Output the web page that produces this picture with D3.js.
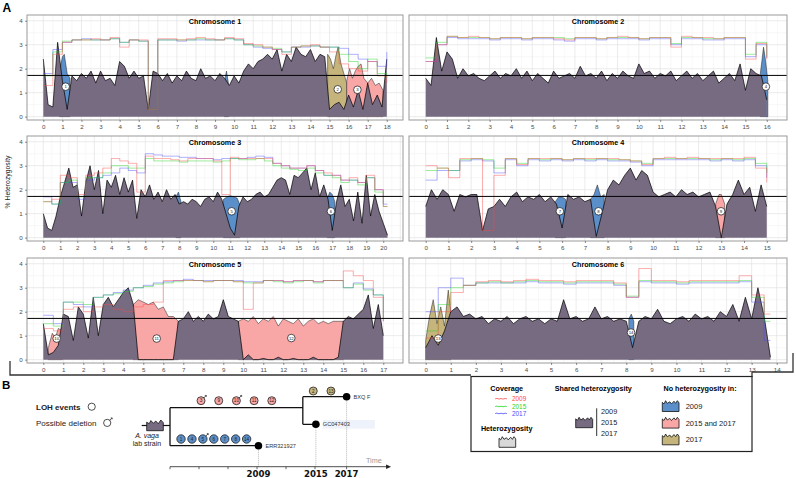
<!DOCTYPE html>
<html><head><meta charset="utf-8">
<script src="https://cdn.jsdelivr.net/npm/d3@7"></script>
<style>body{margin:0;background:#fff}svg{font-family:"Liberation Sans",Arial,sans-serif;display:block}</style>
</head><body><svg id="c" width="796" height="478"></svg>
<script>
// ---------------- DATA ----------------
const chromNames = ["Chromosome 1","Chromosome 2","Chromosome 3","Chromosome 4","Chromosome 5","Chromosome 6"];
const hetStep = 0.25;   // Mb between heterozygosity values
const covStep = 0.5;    // Mb between coverage values
const yTicks = [0,1,2,3,4];
const xTickMax = [18,16,20,15,17,14];
const hetThreshold = 1.72;

// shared heterozygosity (%) per chromosome
const het1 = [2.4,0.5,0.4,3.1, 1.5,0.3,1.7,1.5, 1.8,1.6,1.9,1.4, 1.9,1.5,1.6,1.3, 2.3,2.1,1.6,1.9, 1.6,1.7,0.3,1.9, 1.8,1.5,1.8,1.4, 1.7,1.5,1.9,1.6, 1.5,2.0,1.6,1.7, 1.5,1.8,1.6,1.3, 1.7,1.4,1.9,2.2, 2.0,2.3,2.4,2.6, 2.4,2.8,1.9,2.6, 2.3,2.9,2.6,2.5, 2.8,2.3,2.6,2.5, 0.3,0.5,0.6,0.3, 0.9,0.4,1.1,0.3, 1.4,0.5,0.9,0.4, 2.4];
const het2 = [1.6,1.3,3.3,1.9, 2.7,2.4,1.6,2.0, 1.7,1.8,1.6,1.5, 1.7,1.9,1.6,1.8, 1.7,2.0,1.6,1.9, 1.5,1.8,1.6,1.4, 1.9,1.6,1.7,1.8, 1.6,2.1,1.7,1.8, 1.6,1.9,1.5,1.8, 1.6,1.9,1.7,1.6, 2.2,1.8,1.9,1.6, 1.8,1.7,1.9,1.5, 1.7,1.9,1.6,1.8, 1.5,1.7,1.9,1.4, 1.6,1.8,1.5,2.2, 1.1,2.0,1.8,1.7, 0.7];
const het3 = [1.0,0.4,0.3,0.9, 1.7,2.3,2.9,2.1, 2.2,0.9,2.3,3.0, 2.0,2.8,1.0,2.4, 2.1,2.6,1.8,2.5, 1.9,2.4,0.8,2.0, 1.7,2.2,1.6,1.9, 1.5,2.0,1.6,1.8, 1.4,1.5,1.4,1.6, 1.5,1.3,1.6,1.7, 1.5,1.9,1.6,1.0, 0.4,0.1,1.3,1.7, 1.5,1.6,1.8,1.9, 1.7,1.8,2.1,2.4, 2.5,2.4,1.8,2.6, 2.5,2.7,2.9,2.0, 2.7,1.7,2.2,1.6, 0.3,1.5,2.2,1.3, 1.6,0.7,1.9,0.6, 2.6,0.9,1.8,1.1, 0.6,0.1];
const het4 = [1.3,2.0,1.6,2.0, 1.8,1.1,1.8,1.7, 1.8,1.8,0.3,1.2, 1.3,1.6,1.3,1.7, 1.9,1.5,1.7,1.6, 1.8,1.5,1.7,1.4, 0.4,1.8,1.6,1.7, 1.5,1.6,0.05,1.0, 2.0,2.4,2.2,2.6, 2.9,2.4,2.8,2.6, 1.9,1.7,1.8,1.9, 1.7,2.0,1.8,1.9, 1.7,1.8,1.9,1.3, 0.0,1.4,1.8,2.4, 1.8,2.1,1.1,2.2, 1.3];
const het5 = [1.5,0.2,0.3,0.6, 1.9,1.8,0.8,2.2, 1.9,0.9,2.6,1.0, 2.3,2.6,2.2,2.5, 2.8,3.0,2.3,0.0, 0.0,0.0,0.0,0.0, 0.0,0.0,0.0,1.6, 1.7,2.0,1.6,1.8, 1.6,1.9,1.7,1.8, 2.5,1.8,1.7,1.6, 0.0,0.2,0.0,0.0, 0.05,0.0,0.0,0.1, 0.0,0.0,0.05,0.0, 0.0,0.0,0.1,0.0, 0.0,0.0,0.0,0.1, 1.6,1.8,1.7,1.9, 2.1,2.7,1.3,2.3, 1.0];
const het6 = [0.5,1.0,0.6,1.2, 2.0,2.2,1.8,1.9, 1.7,1.8,1.5,1.7, 1.6,1.8,1.5,1.7, 1.8,1.6,1.7,1.5, 1.7,1.6,2.5,1.7, 1.8,1.6,1.7,2.2, 1.7,1.8,1.6,1.7, 1.6,0.5,1.6,1.8, 1.7,2.1,1.6,1.5, 1.7,1.8,1.6,1.9, 1.7,1.8,1.6,2.0, 1.8,2.3,1.6,2.6, 1.7,3.0,1.8,0.1];

// coverage per sequencing year
const cov2009_1 = [1.3,2.6,3.1,3.2,3.2,3.25,3.2,3.3,2.9,3.2,3.2,0.3,3.25,3.25,3.2,3.25,3.3,3.25,3.2,3.3,3.25,3.05,3.0,2.9,2.8,2.6,2.9,2.95,3.0,2.9,2.7,2.2,2.0,1.9,2.3,1.7,1.4];
const cov2015_1 = [1.7,2.7,3.15,3.2,3.2,3.2,3.2,3.25,3.1,3.2,3.15,0.3,3.2,3.2,3.2,3.2,3.25,3.2,3.2,3.25,3.2,3.0,2.95,2.9,2.85,2.7,2.9,2.95,2.95,2.9,2.9,2.6,2.3,2.0,2.4,1.8,1.6];
const cov2017_1 = [1.8,2.8,3.1,3.2,3.25,3.2,3.2,3.25,3.1,3.2,3.15,0.3,3.2,3.2,3.15,3.2,3.2,3.2,3.2,3.25,3.2,3.0,2.9,2.85,2.8,2.7,2.9,2.9,2.95,2.9,2.9,2.85,2.6,2.4,2.3,2.1,2.7];
const cov2009_2 = [2.3,3.0,3.35,3.3,3.35,3.3,3.25,3.3,3.3,3.25,3.3,3.3,3.25,3.2,3.3,3.3,3.25,3.3,3.35,3.3,3.25,3.3,3.3,2.9,3.35,3.3,3.3,3.25,3.3,3.3,2.4,3.05,2.4];
const cov2015_2 = [2.45,3.1,3.35,3.3,3.3,3.3,3.25,3.3,3.3,3.25,3.3,3.3,3.3,3.25,3.3,3.3,3.25,3.3,3.3,3.3,3.25,3.3,3.3,3.05,3.3,3.3,3.25,3.25,3.3,3.3,2.6,3.1,2.5];
const cov2017_2 = [2.3,3.0,3.3,3.25,3.25,3.25,3.2,3.25,3.25,3.2,3.25,3.25,3.2,3.15,3.25,3.25,3.2,3.25,3.25,3.25,3.2,3.25,3.25,3.0,3.25,3.25,3.2,3.2,3.25,3.25,2.5,3.0,2.45];
const cov2009_3 = [1.5,1.6,2.6,2.5,1.8,2.6,2.7,2.9,3.3,3.2,3.1,1.9,3.4,3.3,3.3,3.25,3.2,3.3,3.3,3.3,3.2,1.8,3.35,3.3,3.3,3.3,3.3,3.1,3.0,2.9,2.9,3.0,2.8,2.7,2.6,2.4,2.5,2.3,2.6,2.0,1.3];
const cov2015_3 = [1.5,1.4,2.3,2.4,1.7,2.5,2.5,2.7,3.0,3.0,2.9,2.9,3.3,3.2,3.2,3.2,3.15,3.2,3.2,3.2,3.15,3.2,3.3,3.25,3.25,3.3,3.2,3.0,2.9,2.85,2.8,2.9,2.7,2.6,2.5,2.3,2.4,2.2,2.5,1.9,1.3];
const cov2017_3 = [1.7,1.4,2.3,2.3,1.6,2.4,2.5,2.6,2.7,2.9,2.8,2.7,3.5,3.45,3.4,3.4,3.35,3.35,3.3,3.3,3.25,3.3,3.3,3.3,3.35,3.4,3.35,3.1,3.0,2.9,2.9,3.0,2.8,2.6,2.6,2.4,2.4,2.3,2.5,2.0,1.4];
const cov2009_4 = [3.0,2.9,2.5,3.3,3.3,0.3,2.6,3.3,3.05,3.3,3.3,3.3,3.25,3.3,3.3,3.3,3.3,3.25,3.2,3.05,3.3,3.35,3.3,3.35,3.3,3.3,3.3,3.3,3.35,2.9,2.3];
const cov2015_4 = [2.8,2.9,2.8,3.25,3.3,3.25,2.9,3.3,3.1,3.3,3.25,3.3,3.25,3.3,3.25,3.3,3.25,3.25,3.2,3.1,3.3,3.3,3.3,3.3,3.3,3.25,3.3,3.25,3.3,3.1,2.7];
const cov2017_4 = [2.4,2.8,2.8,3.2,3.25,3.2,2.7,3.25,3.0,3.25,3.2,3.25,3.2,3.25,3.2,3.25,3.2,3.2,3.15,3.0,3.25,3.25,3.25,3.25,3.25,3.2,3.25,3.2,3.25,3.0,2.5];
const cov2009_5 = [1.3,1.2,2.1,2.2,2.0,2.2,2.3,2.1,2.0,2.2,2.3,2.4,3.3,3.3,3.3,3.3,3.25,3.3,3.3,3.25,2.1,3.2,3.3,3.3,3.25,3.3,3.3,3.25,3.3,3.3,3.7,3.5,3.3,2.6,1.6];
const cov2015_5 = [1.5,1.4,2.4,2.4,2.3,2.6,2.7,2.75,2.85,3.0,3.05,3.15,3.2,3.25,3.3,3.3,3.25,3.3,3.3,3.25,3.2,3.2,3.3,3.25,3.2,3.25,3.3,3.2,3.3,3.3,3.0,3.15,2.9,2.7,1.7];
const cov2017_5 = [1.85,1.5,2.4,2.3,2.2,2.6,2.7,2.8,2.9,3.0,3.1,3.2,3.25,3.3,3.35,3.3,3.3,3.3,3.3,3.3,3.25,3.25,3.3,3.3,3.25,3.3,3.3,3.25,3.3,3.3,3.0,3.2,2.95,2.7,1.6];
const cov2009_6 = [0.9,2.0,2.8,3.1,3.25,3.3,3.25,3.3,3.35,3.3,3.3,3.25,3.3,3.3,3.3,3.2,2.6,3.8,3.3,3.3,3.25,3.3,3.3,3.3,3.3,3.5,2.7,1.9];
const cov2015_6 = [1.2,2.3,3.0,3.1,3.2,3.25,3.2,3.25,3.3,3.25,3.25,3.2,3.25,3.25,3.25,3.15,2.65,3.3,3.25,3.25,3.2,3.25,3.25,3.25,3.25,3.3,2.6,1.6];
const cov2017_6 = [2.0,3.0,3.4,3.1,3.2,3.2,3.2,3.2,3.25,3.2,3.2,3.15,3.2,3.2,3.2,3.1,2.6,3.25,3.2,3.2,3.15,3.2,3.2,3.2,3.2,3.25,2.4,0.8];

const hetByChrom = [het1,het2,het3,het4,het5,het6];
const cov2009 = [cov2009_1,cov2009_2,cov2009_3,cov2009_4,cov2009_5,cov2009_6];
const cov2015 = [cov2015_1,cov2015_2,cov2015_3,cov2015_4,cov2015_5,cov2015_6];
const cov2017 = [cov2017_1,cov2017_2,cov2017_3,cov2017_4,cov2017_5,cov2017_6];

// LOH events: heterozygosity kept by the other samples
const lohId     = ["1","2","3","4","5","6","7","8","9","10","11","12","13","14","",""];
const lohChrom  = [1,1,1,2,3,3,4,4,4,5,5,5,6,6,1,3];
const lohType   = ["2009","2017","2015 and 2017","2009","2009","2009","2009","2009","2015 and 2017","2015 and 2017","2015 and 2017","2015 and 2017","2017","2009","2009","2009"];
const lohLabelMb  = [1.17,15.43,16.46,15.96,11.08,16.92,5.9,7.6,12.99,0.67,5.67,12.4,0.5,8.19,null,null];
const lohLabelHet = [1.25,1.14,1.12,1.25,1.1,1.1,1.1,1.1,1.1,0.88,0.88,0.9,0.88,1.13,null,null];
const lohX = [
 [0.85,1.0,1.1,1.25,1.4],
 [14.9,15.05,15.2,15.35,15.45,15.6,15.75,15.9],
 [15.9,16.05,16.2,16.35,16.5,16.65,16.8,17.0,17.2,17.4,17.6,17.8],
 [15.7,15.85,15.95,16.05],
 [10.6,10.8,11.0,11.2,11.4,11.55],
 [16.7,16.85,17.0,17.15],
 [5.7,5.85,6.0,6.15],
 [7.25,7.4,7.55,7.7,7.85],
 [12.75,12.9,13.0,13.15],
 [0.25,0.45,0.6,0.75,0.95],
 [4.5,4.75,5.0,5.25,5.5,5.75,6.0,6.25,6.5,6.75],
 [9.75,10.0,10.25,10.5,10.75,11.0,11.25,11.5,11.75,12.0,12.25,12.5,12.75,13.0,13.25,13.5,13.75,14.0,14.25,14.5,14.75,15.0],
 [0,0.15,0.3,0.45,0.6,0.75,0.9,1.0],
 [8.1,8.2,8.3],
 [9.5,9.6,9.7],
 [7.8,7.95,8.1]
];
const lohTop = [
 [1.9,2.5,2.6,1.8,1.6],
 [2.6,2.4,2.0,2.6,2.9,2.2,1.8,1.4],
 [1.5,2.0,1.6,1.9,2.1,2.2,1.6,1.4,1.6,1.3,1.4,1.1],
 [1.8,2.9,2.3,1.5],
 [1.6,1.7,1.75,1.7,1.65,1.4],
 [1.6,1.9,1.8,1.5],
 [1.5,1.7,1.7,1.6],
 [1.6,1.8,2.2,1.7,1.8],
 [1.4,1.8,1.8,1.4],
 [0.5,1.1,0.9,1.3,1.2],
 [2.3,2.5,2.4,2.3,2.4,2.1,2.2,1.8,1.8,1.6],
 [1.6,1.7,1.6,1.8,1.5,1.7,1.6,1.8,1.4,1.7,1.6,1.5,1.7,1.4,1.6,1.7,1.5,1.6,1.5,1.6,1.6,1.6],
 [0.8,1.8,2.5,1.5,2.2,1.4,2.9,2.0],
 [1.7,1.9,1.6],
 [1.5,1.9,1.4],
 [1.7,1.9,1.5]
];

// Panel B
const strainNames = ["ERR321927","GC047403","BXQ F"];
const strainYears = [2009,2015,2017];
const strainTime  = [3.05,5.03,6.09];
const branchSplitTime = 4.58;
const timeTicks = [0,1,2,3,4,5,6.09];
const loh2009Branch = ["1","4","5","6","7","8","14"];
const loh1517Branch = ["3","9","10","11","12"];
const loh2017Branch = ["2","13"];
const lohDeletion = ["3","5","10"];

// ---------------- STYLE ----------------
const lohColor = {"2009":"#5b8fca","2015 and 2017":"#f8a6a6","2017":"#c5b47c"};
const sharedColor = "#776b81";
const covColor = {"2009":"#ff4747","2015":"#1fd41f","2017":"#4a4aff"};

const svg = d3.select("#c");
const defs = svg.append("defs");
const panelLeft=[27,409], panelRight=[403,787], panelTop=[15,136,258], panelH=105;
const xDom = [[-0.855,18.85],[-0.784,16.95],[-0.959,21.16],[-0.735,15.89],[-0.815,17.985],[-0.666,14.41]];
const yDom = [-0.14,4.24];

chromNames.forEach((name,ci)=>{
  const col=ci%2,row=Math.floor(ci/2);
  const x0=panelLeft[col],x1=panelRight[col],y0=panelTop[row],y1=y0+panelH;
  const x=d3.scaleLinear().domain(xDom[ci]).range([x0,x1]);
  const y=d3.scaleLinear().domain(yDom).range([y1,y0]);
  const g=svg.append("g");
  g.append("rect").attr("x",x0).attr("y",y0).attr("width",x1-x0).attr("height",panelH).attr("fill","#fff");
  const cid="clip"+ci;
  defs.append("clipPath").attr("id",cid).append("rect").attr("x",x0).attr("y",y0).attr("width",x1-x0).attr("height",panelH);
  const pg=g.append("g").attr("clip-path",`url(#${cid})`);
  // grid
  const xMinor=d3.range(Math.ceil(xDom[ci][0]*2)/2,xDom[ci][1],0.5).filter(v=>v%1!==0);
  const xGrid=d3.range(0,Math.floor(xDom[ci][1])+1);
  const xMajor=d3.range(0,xTickMax[ci]+1);
  const yMinor=[0.5,1.5,2.5,3.5];
  pg.selectAll(".vmn").data(xMinor).join("line").attr("x1",d=>x(d)).attr("x2",d=>x(d)).attr("y1",y0).attr("y2",y1).attr("stroke","#f1f1f1").attr("stroke-width",0.5);
  pg.selectAll(".hmn").data(yMinor).join("line").attr("x1",x0).attr("x2",x1).attr("y1",d=>y(d)).attr("y2",d=>y(d)).attr("stroke","#f1f1f1").attr("stroke-width",0.5);
  pg.selectAll(".vmj").data(xGrid).join("line").attr("x1",d=>x(d)).attr("x2",d=>x(d)).attr("y1",y0).attr("y2",y1).attr("stroke","#e3e3e3").attr("stroke-width",0.7);
  pg.selectAll(".hmj").data(yTicks).join("line").attr("x1",x0).attr("x2",x1).attr("y1",d=>y(d)).attr("y2",d=>y(d)).attr("stroke","#e3e3e3").attr("stroke-width",0.7);

  const areaGen=d3.area().x(d=>x(d[0])).y0(y(0)).y1(d=>y(d[1]));
  // LOH areas
  lohChrom.forEach((c,k)=>{
    if(c!==ci+1) return;
    const pts=lohX[k].map((v,i)=>[v,lohTop[k][i]]);
    pg.append("path").attr("d",areaGen(pts)).attr("fill",lohColor[lohType[k]]).attr("stroke","#222").attr("stroke-width",0.5);
  });
  // shared heterozygosity
  const het=hetByChrom[ci].map((v,i)=>[i*hetStep,v]);
  pg.append("path").attr("d",areaGen(het)).attr("fill",sharedColor);
  pg.append("path").attr("d",d3.line().x(d=>x(d[0])).y(d=>y(d[1]))(het)).attr("fill","none").attr("stroke","#000").attr("stroke-width",0.7);
  const end=(hetByChrom[ci].length-1)*hetStep;
  // coverage
  [["2017",cov2017],["2015",cov2015],["2009",cov2009]].forEach(([yr,arr])=>{
    const pts=arr[ci].map((v,i)=>[i*covStep,v]);
    pts.push([end,arr[ci][arr[ci].length-1]]);
    pg.append("path").attr("d",d3.line().curve(d3.curveStepAfter).x(d=>x(d[0])).y(d=>y(d[1]))(pts))
      .attr("fill","none").attr("stroke",covColor[yr]).attr("stroke-opacity",0.55).attr("stroke-width",0.8);
  });
  // threshold
  pg.append("line").attr("x1",x0).attr("x2",x1).attr("y1",y(hetThreshold)).attr("y2",y(hetThreshold)).attr("stroke","#000").attr("stroke-width",1);
  // labels of events
  lohChrom.forEach((c,k)=>{
    if(c!==ci+1||!lohId[k]) return;
    const cx=x(lohLabelMb[k]),cy=y(lohLabelHet[k]);
    pg.append("circle").attr("cx",cx).attr("cy",cy).attr("r",3.8).attr("fill","#fff").attr("stroke","#111").attr("stroke-width",0.7);
    pg.append("text").attr("x",cx).attr("y",cy+1.5).attr("text-anchor","middle").attr("font-size",4.3).attr("fill","#111").text(lohId[k]);
  });
  // frame
  g.append("rect").attr("x",x0).attr("y",y0).attr("width",x1-x0).attr("height",panelH).attr("fill","none").attr("stroke","#9a9a9a").attr("stroke-width",1);
  // title
  g.append("text").attr("x",(x0+x1)/2).attr("y",y0+9.3).attr("text-anchor","middle").attr("font-size",7.2).attr("font-weight","bold").text(name);
  // axes
  const ax=g.append("g").attr("transform",`translate(0,${y1})`).call(d3.axisBottom(x).tickValues(xMajor).tickSize(2).tickPadding(2.2).tickFormat(d3.format("d")));
  ax.select(".domain").remove();
  ax.selectAll("line").attr("stroke","#444").attr("stroke-width",0.6);
  ax.selectAll("text").attr("font-size",6.2).attr("fill","#4d4d4d").attr("font-family","Liberation Sans, Arial, sans-serif");
  if(col===0){
    const ay=g.append("g").attr("transform",`translate(${x0},0)`).call(d3.axisLeft(y).tickValues(yTicks).tickSize(2).tickPadding(2.2).tickFormat(d3.format("d")));
    ay.select(".domain").remove();
    ay.selectAll("line").attr("stroke","#444").attr("stroke-width",0.6);
    ay.selectAll("text").attr("font-size",6.2).attr("fill","#4d4d4d").attr("font-family","Liberation Sans, Arial, sans-serif");
  }
});

// Y title & panel letters
svg.append("text").attr("transform","translate(10,182) rotate(-90)").attr("text-anchor","middle").attr("font-size",6.8).attr("fill","#222").text("% Heterozygosity");
svg.append("text").attr("x",2.5).attr("y",12).attr("font-size",12).attr("font-weight","bold").text("A");
svg.append("text").attr("x",2).attr("y",389).attr("font-size",11.5).attr("font-weight","bold").text("B");

// Bracket + legend box
svg.append("path").attr("d","M10,361V375H471").attr("fill","none").attr("stroke","#333").attr("stroke-width",1.3);
svg.append("path").attr("d","M793,353V372H752V377").attr("fill","none").attr("stroke","#333").attr("stroke-width",1.3);
svg.append("rect").attr("x",471).attr("y",376.5).attr("width",281).attr("height",75).attr("fill","#fff").attr("stroke","#222").attr("stroke-width",1.2);

function glyph(x0,y0,w,h,fill){
  const pts=[[0,1],[0,0.15],[0.1,0.3],[0.2,0],[0.3,0.25],[0.45,0.1],[0.55,0.3],[0.7,0.05],[0.8,0.25],[0.9,0.0],[1,0.2],[1,1]];
  svg.append("path").attr("d",d3.line()(pts.map(p=>[x0+p[0]*w,y0+p[1]*h]))+"Z").attr("fill",fill).attr("stroke","#111").attr("stroke-width",0.8);
}
function squiggle(x0,yc,color){
  const pts=[[0,0],[2,-1],[4,0.6],[6,-1],[8,0.6],[10,-0.9],[12,0]];
  svg.append("path").attr("d",d3.line().curve(d3.curveBasis)(pts.map(p=>[x0+p[0],yc+p[1]]))).attr("fill","none").attr("stroke",color).attr("stroke-width",0.8);
}
const lg=svg.append("g");
lg.append("text").attr("x",506.7).attr("y",391).attr("text-anchor","middle").attr("font-size",7.2).attr("font-weight","bold").text("Coverage");
[["2009",399],["2015",406.7],["2017",413.7]].forEach(([yr,yy])=>{
  squiggle(495,yy,covColor[yr]);
  lg.append("text").attr("x",512).attr("y",yy+2.3).attr("font-size",6.4).attr("fill",covColor[yr]).text(yr);
});
lg.append("text").attr("x",506.7).attr("y",431).attr("text-anchor","middle").attr("font-size",7.2).attr("font-weight","bold").text("Heterozygosity");
glyph(499,436.7,16.7,10.6,"#d9d9d9");
lg.append("text").attr("x",593.3).attr("y",391).attr("text-anchor","middle").attr("font-size",7.2).attr("font-weight","bold").text("Shared heterozygosity");
glyph(575.7,417.3,17,10.4,sharedColor);
lg.append("line").attr("x1",596.7).attr("x2",596.7).attr("y1",408.3).attr("y2",436).attr("stroke","#333").attr("stroke-width",1);
strainYears.forEach((yr,i)=>lg.append("text").attr("x",601).attr("y",414.3+i*11).attr("font-size",7.3).attr("fill","#222").text(yr));
lg.append("text").attr("x",700).attr("y",391).attr("text-anchor","middle").attr("font-size",7.2).attr("font-weight","bold").text("No heterozygosity in:");
[["2009",400.7],["2015 and 2017",417.3],["2017",434]].forEach(([t,yy])=>{
  glyph(662.3,yy,16.7,10.8,lohColor[t]);
  lg.append("text").attr("x",685.7).attr("y",yy+8.2).attr("font-size",7.5).attr("fill","#222").text(t);
});

// ---------------- Panel B: tree ----------------
const tX=d3.scaleLinear().domain([0,6]).range([170,344]);
const yUp=407.7,yBot=445.7,ySplitTop=396.7,ySplitBot=424.3,yAxis=466.7,yPink=400.7,yBlue=439,yOlive=391;
const b=svg.append("g");
b.append("text").attr("x",36).attr("y",409.5).attr("font-size",8).attr("font-weight","bold").attr("fill","#222").text("LOH events");
b.append("text").attr("x",36).attr("y",425.5).attr("font-size",8).attr("fill","#222").text("Possible deletion");
function lohCircle(cx,cy,r,fill,label,del){
  b.append("circle").attr("cx",cx).attr("cy",cy).attr("r",r).attr("fill",fill).attr("stroke","#222").attr("stroke-width",0.8);
  if(del){
    const sx=cx+r*0.7,sy=cy-r*0.7;
    b.append("line").attr("x1",sx).attr("y1",sy).attr("x2",sx+2.2).attr("y2",sy-2.2).attr("stroke","#222").attr("stroke-width",0.8);
    b.append("path").attr("d",`M${sx+1},${sy-2.4}L${sx+2.5},${sy-2.5}L${sx+2.4},${sy-1}`).attr("fill","none").attr("stroke","#222").attr("stroke-width",0.7);
  }
  if(label) b.append("text").attr("x",cx).attr("y",cy+1.6).attr("text-anchor","middle").attr("font-size",4.6).attr("fill","#222").text(label);
}
lohCircle(91.7,406.7,3.6,"#fff","",false);
lohCircle(107.2,422.9,3.6,"#fff","",true);

// GC highlight
b.append("rect").attr("x",tX(strainTime[1])+7).attr("y",420).attr("width",52).attr("height",8.6).attr("fill","#eef2fa");
// strain box
b.append("line").attr("x1",141.7).attr("x2",tX(0)).attr("y1",425.5).attr("y2",425.5).attr("stroke","#111").attr("stroke-width",1.2);
const sbPts=[[0,1],[0,0.2],[0.15,0.35],[0.25,0.05],[0.4,0.3],[0.55,0.1],[0.7,0.35],[0.85,0.0],[1,0.25],[1,1]];
b.append("path").attr("d",d3.line()(sbPts.map(p=>[146.7+p[0]*16.6,420+p[1]*10.7]))+"Z").attr("fill",sharedColor).attr("stroke","#111").attr("stroke-width",0.8);
b.append("text").attr("x",147).attr("y",437.8).attr("text-anchor","middle").attr("font-size",7).attr("fill","#222").attr("font-style","italic").text("A. vaga");
b.append("text").attr("x",147).attr("y",446.2).attr("text-anchor","middle").attr("font-size",7).attr("fill","#222").text("lab strain");

// dotted lines to axis
[[0,yBot],[1,ySplitBot],[2,ySplitTop]].forEach(([i,yy])=>{
  b.append("line").attr("x1",tX(strainTime[i])).attr("x2",tX(strainTime[i])).attr("y1",yy).attr("y2",yAxis).attr("stroke","#999").attr("stroke-width",0.7).attr("stroke-dasharray","1,1");
});
// branches
const br=d3.path();
br.moveTo(tX(0),yUp);br.lineTo(tX(0),yBot);
br.moveTo(tX(0),yUp);br.lineTo(tX(branchSplitTime),yUp);
br.moveTo(tX(branchSplitTime),ySplitTop);br.lineTo(tX(branchSplitTime),ySplitBot);
br.moveTo(tX(branchSplitTime),ySplitTop);br.lineTo(tX(strainTime[2]),ySplitTop);
br.moveTo(tX(branchSplitTime),ySplitBot);br.lineTo(tX(strainTime[1]),ySplitBot);
br.moveTo(tX(0),yBot);br.lineTo(tX(strainTime[0]),yBot);
b.append("path").attr("d",br.toString()).attr("fill","none").attr("stroke","#111").attr("stroke-width",1.3);
// nodes
[[0,yBot],[1,ySplitBot],[2,ySplitTop]].forEach(([i,yy])=>{
  b.append("circle").attr("cx",tX(strainTime[i])).attr("cy",yy).attr("r",3.8).attr("fill","#000");
  b.append("text").attr("x",tX(strainTime[i])+7).attr("y",yy+2).attr("font-size",5.6).attr("fill","#333").text(strainNames[i]);
});
// LOH circles on branches
loh2009Branch.forEach((id,i)=>lohCircle(tX(0.38+i*0.377),yBlue,4.2,lohColor["2009"],id,lohDeletion.includes(id)));
loh1517Branch.forEach((id,i)=>lohCircle(tX(1.07+i*0.61),yPink,4.0,lohColor["2015 and 2017"],id,lohDeletion.includes(id)));
loh2017Branch.forEach((id,i)=>lohCircle(tX(4.94+i*0.61),yOlive,4.0,lohColor["2017"],id,lohDeletion.includes(id)));

// time axis
b.append("line").attr("x1",tX(0)).attr("x2",tX(7.45)).attr("y1",yAxis).attr("y2",yAxis).attr("stroke","#222").attr("stroke-width",0.8);
b.append("path").attr("d",`M${tX(7.45)},${yAxis-2.2}L${tX(7.45)+5},${yAxis}L${tX(7.45)},${yAxis+2.2}Z`).attr("fill","#222");
b.selectAll(".tt").data(timeTicks).join("line").attr("x1",d=>tX(d)).attr("x2",d=>tX(d)).attr("y1",yAxis).attr("y2",yAxis+2.5).attr("stroke","#222").attr("stroke-width",0.7);
b.append("text").attr("x",tX(7.3)).attr("y",462.5).attr("text-anchor","end").attr("font-size",7.2).attr("fill","#999").text("Time");
strainYears.forEach((yr,i)=>b.append("text").attr("x",tX(strainTime[i])).attr("y",477).attr("text-anchor","middle").attr("font-size",8.6).attr("font-weight","bold").attr("font-family","DejaVu Sans").attr("fill","#111").text(yr));
</script></body></html>
